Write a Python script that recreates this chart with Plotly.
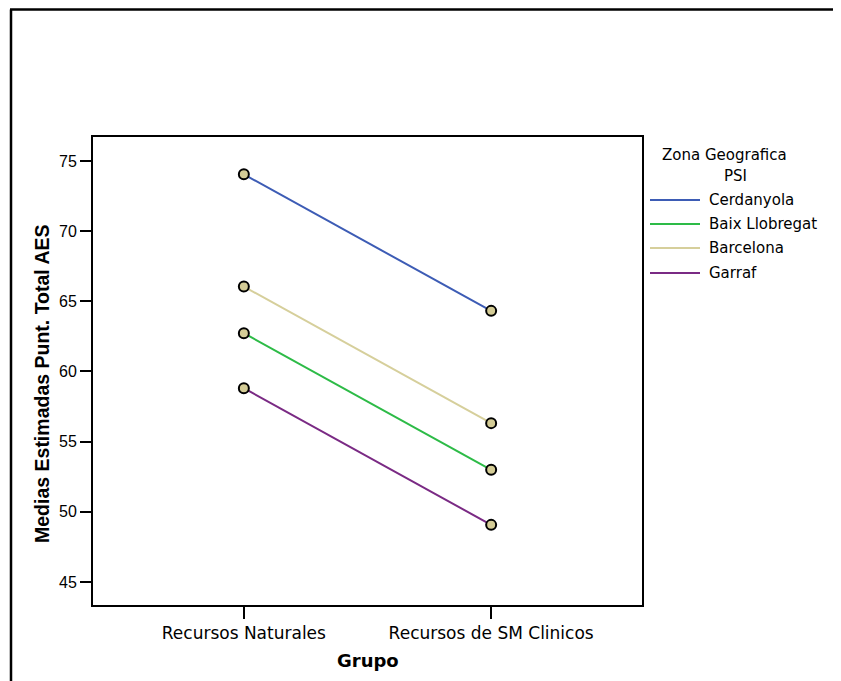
import plotly.graph_objects as go

categories = ["Recursos Naturales", "Recursos de SM Clinicos"]
series_names = ["Cerdanyola", "Baix Llobregat", "Barcelona", "Garraf"]
cerdanyola = [74.05, 64.32]
baix_llobregat = [62.73, 52.99]
barcelona = [66.05, 56.32]
garraf = [58.81, 49.07]
y_ticks = [45, 50, 55, 60, 65, 70, 75]
legend_title_lines = ["Zona Geografica", "PSI"]
y_title = "Medias Estimadas Punt. Total AES"
x_title = "Grupo"

series_values = [cerdanyola, baix_llobregat, barcelona, garraf]
colors = ["#3d5cb5", "#2dbb47", "#d6cf9b", "#7a2a84"]

OFF = 8  # page body margin in the browser
W, H = 841, 681
L, R, T, B = 93 - OFF, 642 - OFF, 137 - OFF, 605 - OFF

fig = go.Figure()
xi = list(range(len(categories)))
for name, vals, col in zip(series_names, series_values, colors):
    fig.add_trace(go.Scatter(x=xi, y=vals, mode="lines", name=name,
                             line=dict(color=col, width=2), showlegend=False))
for name, vals, col in zip(series_names, series_values, colors):
    fig.add_trace(go.Scatter(x=xi, y=vals, mode="markers", name=name,
                             marker=dict(size=10, color="#d4cc96",
                                         line=dict(color="black", width=2)),
                             showlegend=False))

def px2x(px):
    return (px - OFF - L) / (R - L)

def py2y(py):
    return (B - (py - OFF)) / (B - T)

fig.update_layout(
    width=W, height=H,
    margin=dict(l=L, r=W - R, t=T, b=H - B, pad=0),
    paper_bgcolor="white", plot_bgcolor="white",
    showlegend=False,
    xaxis=dict(range=[-0.61, 1.61], tickmode="array", tickvals=xi, ticktext=categories,
               showline=True, linecolor="black", linewidth=2, mirror=True,
               ticks="outside", ticklen=12, tickwidth=2, tickcolor="black",
               showgrid=False, zeroline=False,
               tickfont=dict(family="DejaVu Sans", size=17, color="black"),
               title=dict(text=""),),
    yaxis=dict(range=[43.36, 76.71], tickmode="array", tickvals=y_ticks,
               showline=True, linecolor="black", linewidth=2, mirror=True,
               ticks="outside", ticklen=11, tickwidth=2, tickcolor="black",
               showgrid=False, zeroline=False,
               tickfont=dict(family="Liberation Sans", size=16, color="black"),
               title=dict(text="")),
)

# axis titles
fig.add_annotation(x=px2x(368), y=py2y(660), xref="paper", yref="paper",
                   text="<b>" + x_title + "</b>", showarrow=False,
                   xanchor="center", yanchor="middle",
                   font=dict(family="DejaVu Sans", size=18, color="black"))
fig.add_annotation(x=px2x(42), y=py2y(384), xref="paper", yref="paper",
                   text="<b>" + y_title + "</b>", showarrow=False, textangle=-90,
                   xanchor="center", yanchor="middle",
                   font=dict(family="Liberation Sans", size=19.5, color="black"))

# manual legend
title_pos = [(724, 155), (736, 176)]
for txt, (tx, ty) in zip(legend_title_lines, title_pos):
    fig.add_annotation(x=px2x(tx), y=py2y(ty), xref="paper", yref="paper",
                       text=txt, showarrow=False, xanchor="center", yanchor="middle",
                       font=dict(family="DejaVu Sans", size=15, color="black"))
item_y = [200, 224, 248, 273]
for name, col, iy in zip(series_names, colors, item_y):
    fig.add_shape(type="line", xref="paper", yref="paper",
                  x0=px2x(650), x1=px2x(700), y0=py2y(iy), y1=py2y(iy),
                  line=dict(color=col, width=2))
    fig.add_annotation(x=px2x(707), y=py2y(iy), xref="paper", yref="paper",
                       text=name, showarrow=False, xanchor="left", yanchor="middle",
                       font=dict(family="DejaVu Sans", size=15, color="black"))

# outer frame (left and top edges visible)
fig.add_shape(type="line", xref="paper", yref="paper",
              x0=px2x(11), y0=py2y(700), x1=px2x(11), y1=py2y(9.5),
              line=dict(color="black", width=2.5))
fig.add_shape(type="line", xref="paper", yref="paper",
              x0=px2x(10), y0=py2y(9.5), x1=px2x(860), y1=py2y(9.5),
              line=dict(color="black", width=2.5))

fig.write_html("out.html")
